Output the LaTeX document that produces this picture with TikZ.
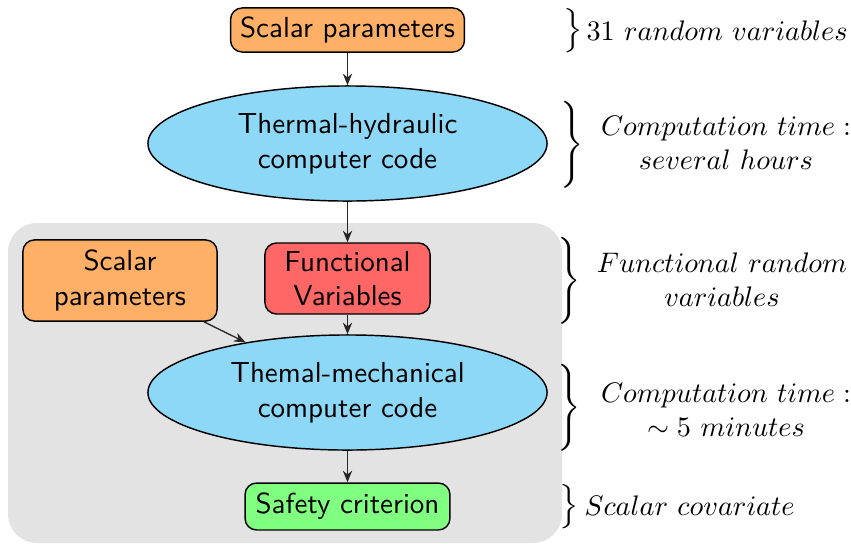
\documentclass[tikz,border=0pt]{standalone}
\usepackage{amsmath,amssymb}
\usepackage{xcolor}
\usepackage{tikz}
\usetikzlibrary{shapes.geometric,arrows.meta}
\definecolor{scal}{HTML}{FFB066}
\definecolor{func}{HTML}{FF6666}
\definecolor{code}{HTML}{8ED8F7}
\definecolor{crit}{HTML}{80FF80}
\definecolor{zone}{HTML}{E3E3E3}
\newcommand{\sidebrace}[1]{$\left.\vcenter{\hbox{\rule{0pt}{#1}}}\right\}$}
\tikzset{
  box/.style={draw=black, rounded corners=4pt, line width=0.5pt, font=\sffamily, align=center, inner sep=0pt},
  codeell/.style={draw=black, ellipse, fill=code, line width=0.5pt, font=\sffamily, align=center,
    inner sep=0pt, minimum width=137.7pt, minimum height=39.7pt},
  flow/.style={draw=black!85, line width=0.45pt, -{Stealth[length=4pt,width=3.2pt]}},
  note/.style={align=center, inner sep=0pt},
  lab/.style={note, scale=0.975},
}
\begin{document}
\begin{tikzpicture}[x=0.345pt, y=-0.345pt]
  \useasboundingbox (0,0) rectangle (851,544);
  \fill[zone, rounded corners=10pt] (8,223) rectangle (562,543);
  \node[box, fill=scal, minimum width=80.7pt, minimum height=15.2pt] (scala) at (347.5,30) {Scalar parameters};
  \node[codeell] (hydr) at (347.5,143.5) {Thermal-hydraulic\\computer code};
  \node[box, fill=scal, minimum width=67pt, minimum height=28pt] (scalb) at (120,280.5) {Scalar\\parameters};
  \node[box, fill=func, minimum width=57pt, minimum height=24.5pt] (funcv) at (347.5,278.5) {Functional\\Variables};
  \node[codeell] (mech) at (347.5,392.5) {Themal-mechanical\\computer code};
  \node[box, fill=crit, minimum width=70.7pt, minimum height=16.2pt] (safe) at (347.5,506.5) {Safety criterion};
  \draw[flow] (scala) -- (hydr);
  \draw[flow] (hydr) -- (funcv);
  \draw[flow] (funcv) -- (mech);
  \draw[flow] (scalb) -- (mech);
  \draw[flow] (mech) -- (safe);
  \node[note, yscale=0.85] (br1) at (571,31) {\sidebrace{14pt}};
  \node[note] (br2) at (570,145) {\sidebrace{30pt}};
  \node[note] (br3) at (567,281) {\sidebrace{30pt}};
  \node[note] (br4) at (567,408) {\sidebrace{30pt}};
  \node[note, yscale=0.85] (br5) at (567,507) {\sidebrace{14pt}};
  \node[lab, anchor=west] (lab1) at (586,31) {$31\ random\ variables$};
  \node[lab] (lab2) at (726,143) {$Computation\ time:$\\$several\ hours$};
  \node[lab] (lab3) at (722,280) {$Functional\ random$\\$variables$};
  \node[lab] (lab4) at (726,410) {$Computation\ time:$\\$\sim 5\ minutes$};
  \node[lab, anchor=west] (lab5) at (584,506) {$Scalar\ covariate$};
\end{tikzpicture}
\end{document}
